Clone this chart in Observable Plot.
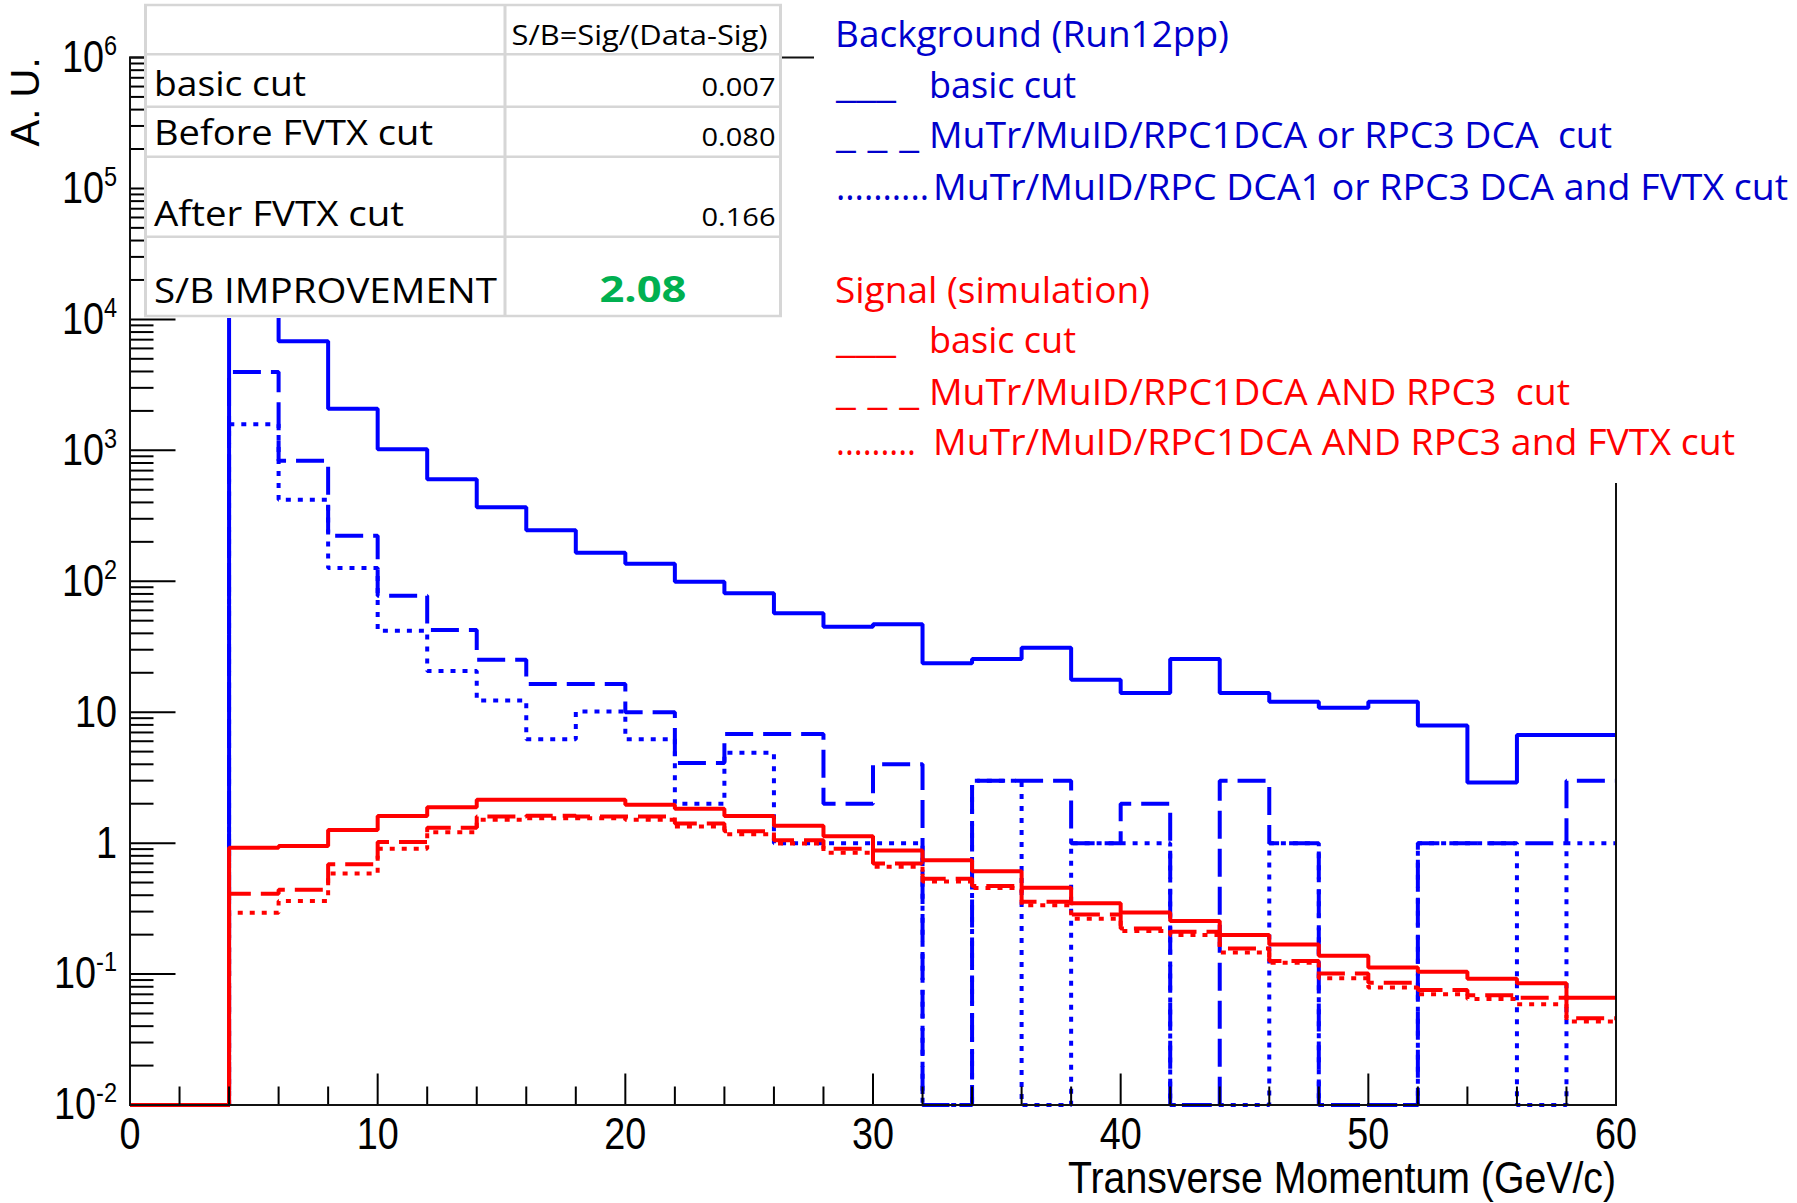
<!DOCTYPE html>
<html>
<head>
<meta charset="utf-8">
<script src="https://cdn.jsdelivr.net/npm/d3@7"></script>
<script src="https://cdn.jsdelivr.net/npm/@observablehq/plot@0.6"></script>
<style>
html, body { margin: 0; padding: 0; background: #fff; }
#chart { width: 1797px; height: 1203px; position: relative; overflow: hidden; }
</style>
</head>
<body>
<div id="chart"></div>
<script>
// ---------------- data ----------------
// bin lower edges (GeV/c); the last entry closes the final bin
const binEdges = [0, 2, 4, 6, 8, 10, 12, 14, 16, 18, 20, 22, 24, 26, 28, 30, 32, 34, 36, 38, 40, 42, 44, 46, 48, 50, 52, 54, 56, 58, 60];

// Background (Run12pp)
const bgBasic = [0, 0, 32000, 6800, 2080, 1020, 600, 368, 245, 165, 136, 99, 81, 57, 45, 47, 23.6, 25.5, 31, 17.7, 14, 25.5, 14, 12, 10.8, 12, 7.9, 2.9, 6.7, 6.7];
const bgDca   = [0, 0, 3970, 832, 223, 77.6, 42.5, 25.2, 16.4, 16.4, 10, 4.1, 6.8, 6.8, 2.0, 4.0, 0, 3, 3, 1, 2, 0, 3, 1, 0, 0, 1, 1, 1, 3];
const bgFvtx  = [0, 0, 1580, 419, 126, 41.9, 20.6, 12.3, 6.2, 10.1, 6.2, 2.0, 4.9, 1, 1, 1, 0, 3, 0, 1, 1, 0, 0, 1, 0, 0, 1, 1, 0, 1];

// Signal (simulation)
const sigBasic = [0, 0, 0.92, 0.95, 1.26, 1.61, 1.88, 2.14, 2.14, 2.14, 1.96, 1.83, 1.61, 1.36, 1.13, 0.88, 0.74, 0.61, 0.457, 0.347, 0.295, 0.254, 0.199, 0.168, 0.138, 0.112, 0.104, 0.092, 0.085, 0.066];
const sigDca   = [0, 0, 0.41, 0.44, 0.69, 1.02, 1.31, 1.60, 1.62, 1.60, 1.60, 1.41, 1.23, 1.05, 0.906, 0.70, 0.535, 0.47, 0.356, 0.285, 0.223, 0.21, 0.157, 0.126, 0.101, 0.086, 0.0757, 0.069, 0.066, 0.046];
const sigFvtx  = [0, 0, 0.294, 0.362, 0.585, 0.906, 1.21, 1.51, 1.55, 1.55, 1.51, 1.34, 1.17, 0.995, 0.845, 0.66, 0.51, 0.455, 0.336, 0.265, 0.213, 0.199, 0.146, 0.122, 0.093, 0.079, 0.070, 0.0646, 0.0588, 0.0434];

// axes
const xMajorTicks = [0, 10, 20, 30, 40, 50, 60];
const xMinorTicks = [2, 4, 6, 8, 12, 14, 16, 18, 22, 24, 26, 28, 32, 34, 36, 38, 42, 44, 46, 48, 52, 54, 56, 58];
const yTickValues = [1e-2, 1e-1, 1, 10, 1e2, 1e3, 1e4, 1e5, 1e6];
const yTickLabels = ["10^-2", "10^-1", "1", "10", "10^2", "10^3", "10^4", "10^5", "10^6"];
const xTitle = "Transverse Momentum (GeV/c)";
const yTitle = "A. U.";

// table
const tableHeader = "S/B=Sig/(Data-Sig)";
const tableRows = ["basic cut", "Before FVTX cut", "After FVTX cut", "S/B IMPROVEMENT"];
const tableValues = ["0.007", "0.080", "0.166", "2.08"];

// legend
const bgTitle = "Background (Run12pp)";
const bgMarkers = ["___", "_ _ _", ".........."];
const bgEntries = ["basic cut", "MuTr/MuID/RPC1DCA or RPC3 DCA  cut", "MuTr/MuID/RPC DCA1 or RPC3 DCA and FVTX cut"];
const sigTitle = "Signal (simulation)";
const sigMarkers = ["___", "_ _ _", "........."];
const sigEntries = ["basic cut", "MuTr/MuID/RPC1DCA AND RPC3  cut", "MuTr/MuID/RPC1DCA AND RPC3 and FVTX cut"];

// ---------------- layout / style ----------------
const W = 1797, H = 1203;
const mTop = 57, mBottom = 98.5, mLeft = 129.5, mRight = 181.5;
const frameW = W - mLeft - mRight, frameH = H - mTop - mBottom;
const yMin = 0.01;
const BLUE = "#0000ff", RED = "#ff0000";
const DASH = "28,10", DOT = "5,7";
const axisFont = "'Liberation Sans', Arial, Helvetica, sans-serif";

// minor log ticks
const yMinorTicks = [];
for (let e = -2; e < 6; e++) for (let k = 2; k <= 9; k++) yMinorTicks.push(k * Math.pow(10, e));

// histogram -> step table (empty bins sit on the frame bottom like ROOT)
function steps(values) {
  return binEdges.map((x, i) => ({x, y: Math.max(values[Math.min(i, values.length - 1)], yMin)}));
}
function hist(values, stroke, dash) {
  return Plot.line(steps(values), {
    x: "x", y: "y", curve: "step-after", stroke, strokeWidth: 4,
    strokeDasharray: dash, strokeLinecap: "butt", strokeLinejoin: "miter"
  });
}

const svg = Plot.plot({
  width: W, height: H,
  marginTop: mTop, marginBottom: mBottom, marginLeft: mLeft, marginRight: mRight,
  style: {fontFamily: axisFont, background: "#fff", color: "#000", overflow: "visible"},
  x: {domain: [0, 60]},
  y: {type: "log", domain: [yMin, 1e6]},
  marks: [
    hist(bgBasic, BLUE, null),
    hist(bgDca, BLUE, DASH),
    hist(bgFvtx, BLUE, DOT),
    hist(sigFvtx, RED, DOT),
    hist(sigDca, RED, DASH),
    hist(sigBasic, RED, null),
    Plot.tickY(yMinorTicks, {y: d => d, stroke: "#000", strokeWidth: 2, insetRight: frameW - 24}),
    Plot.tickY(yTickValues, {y: d => d, stroke: "#000", strokeWidth: 2, insetRight: frameW - 46}),
    Plot.tickX(xMinorTicks, {x: d => d, stroke: "#000", strokeWidth: 2, insetTop: frameH - 18}),
    Plot.tickX(xMajorTicks, {x: d => d, stroke: "#000", strokeWidth: 2, insetTop: frameH - 31}),
    Plot.frame({stroke: "#111", strokeWidth: 2}),
    Plot.axisX({ticks: xMajorTicks, tickSize: 0, tickPadding: 12, fontSize: 45, label: null}),
    Plot.axisY({ticks: yTickValues, tickSize: 0, tickPadding: 13, fontSize: 45, label: null,
      tickFormat: d => yTickLabels[yTickValues.indexOf(d)]}),
    Plot.text([yTitle], {text: d => d, frameAnchor: "top-left", rotate: -90, textAnchor: "end",
      lineAnchor: "bottom", dx: -91, dy: 0, fontSize: 40}),
    Plot.text([xTitle], {text: d => d, frameAnchor: "bottom-right", textAnchor: "end",
      lineAnchor: "bottom", dy: 88, fontSize: 45})
  ]
});
document.getElementById("chart").appendChild(svg);

// narrow (ROOT-like) tick labels + superscript exponents on the y tick labels
const NARROW = " scale(0.84,1)";
d3.select(svg).selectAll("[aria-label='y-axis tick label'] text").each(function () {
  const t = this.textContent;
  const sel = d3.select(this);
  if (t.includes("^")) {
    const [base, exp] = t.split("^");
    sel.text(base);
    sel.append("tspan").attr("dy", "-17").attr("font-size", 28).text(exp);
  }
  sel.attr("transform", (sel.attr("transform") || "") + NARROW);
});
d3.select(svg).selectAll("[aria-label='x-axis tick label'] text").each(function () {
  const sel = d3.select(this);
  sel.attr("transform", (sel.attr("transform") || "") + NARROW);
});
d3.select(svg).selectAll("text").filter(function () { return this.textContent === xTitle; })
  .attr("textLength", 548).attr("lengthAdjust", "spacingAndGlyphs");

// ---------------- table (white box over the plot) ----------------
const ann = d3.select(svg).append("g").attr("font-family", "'Open Sans', 'Noto Sans', sans-serif");
ann.append("rect").attr("x", 144).attr("y", 3).attr("width", 638).attr("height", 315).attr("fill", "#fff");
const gridCol = "#d6d6d6";
[145.5, 505, 780.5].forEach(x => ann.append("line").attr("x1", x).attr("x2", x).attr("y1", 4).attr("y2", 317)
  .attr("stroke", gridCol).attr("stroke-width", 3));
[5, 54.3, 106.7, 156.7, 236.7, 316].forEach(y => ann.append("line").attr("x1", 144).attr("x2", 782).attr("y1", y).attr("y2", y)
  .attr("stroke", gridCol).attr("stroke-width", 2.5));

function txt(g, s, x, y, opt) {
  const t = g.append("text").attr("x", x).attr("y", y).text(s)
    .attr("font-size", opt.size).attr("fill", opt.fill || "#000")
    .attr("text-anchor", opt.anchor || "start");
  if (opt.weight) t.attr("font-weight", opt.weight);
  if (opt.len) t.attr("textLength", opt.len).attr("lengthAdjust", "spacingAndGlyphs");
  return t;
}
txt(ann, tableHeader, 511.5, 45, {size: 27, len: 256});
const rowBase = [96, 145, 226, 303];
const rowLen = [152, 279, 250, 343];
tableRows.forEach((s, i) => txt(ann, s, 154, rowBase[i], {size: 35, len: rowLen[i]}));
tableValues.slice(0, 3).forEach((s, i) => txt(ann, s, 775.5, rowBase[i] + (i === 1 ? 1 : 0), {size: 26, anchor: "end", len: 74}));
txt(ann, tableValues[3], 643, 302, {size: 35, anchor: "middle", weight: "bold", fill: "#00b050", len: 87});

// ---------------- legend (white box) ----------------
ann.append("rect").attr("x", 814).attr("y", 0).attr("width", W - 814).attr("height", 483).attr("fill", "#fff");
const LBLUE = "#0000cc";
txt(ann, bgTitle, 835, 47, {size: 36, fill: LBLUE, len: 394});
const mkLen = [60, 83, 93], bgLen = [147, 683, 855], bgX = [929, 929, 933];
const bgBase = [98, 148, 200];
bgMarkers.forEach((m, i) => txt(ann, m, 836, bgBase[i], {size: 36, fill: LBLUE, len: mkLen[i]}));
bgEntries.forEach((s, i) => txt(ann, s, bgX[i], bgBase[i], {size: 36, fill: LBLUE, len: bgLen[i]}));

txt(ann, sigTitle, 835, 303, {size: 36, fill: RED, len: 315});
const sigMk = [60, 83, 80], sigLen = [147, 641, 802], sigX = [929, 929, 933];
const sigBase = [353, 405, 455];
sigMarkers.forEach((m, i) => txt(ann, m, 836, sigBase[i], {size: 36, fill: RED, len: sigMk[i]}));
sigEntries.forEach((s, i) => txt(ann, s, sigX[i], sigBase[i], {size: 36, fill: RED, len: sigLen[i]}));
</script>
</body>
</html>
